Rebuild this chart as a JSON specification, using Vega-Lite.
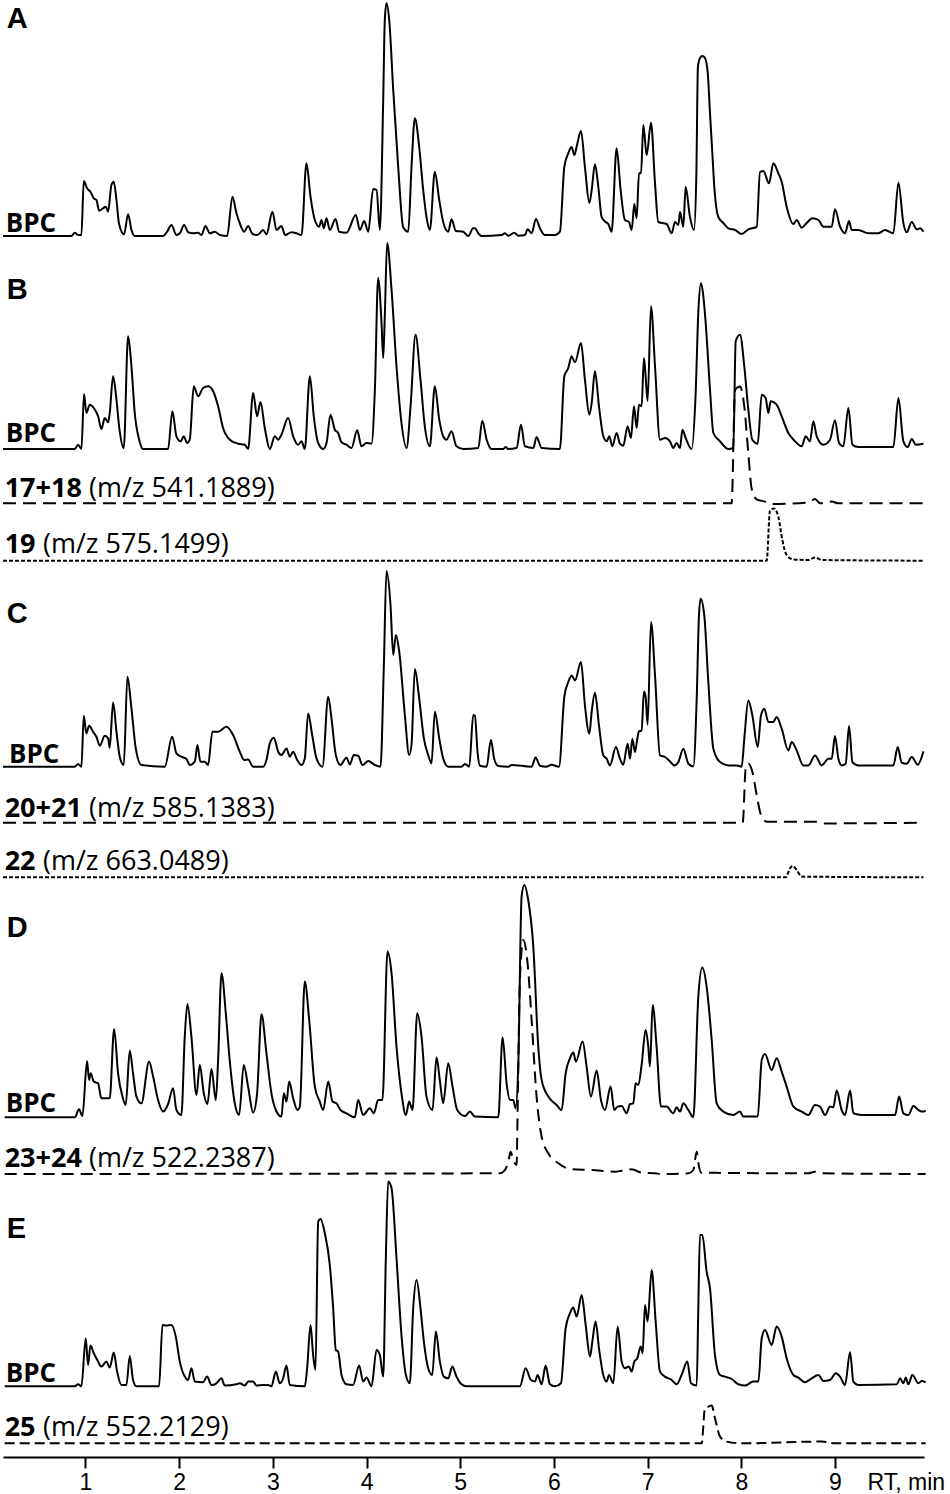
{
"$schema":"https://vega.github.io/schema/vega-lite/v6.json",
"width":921,"height":1457,
"autosize":{"type":"none"},
"padding":{"left":3,"top":0,"right":26,"bottom":37},
"background":"white",
"config":{"view":{"stroke":null}},
"datasets":{
"A":[{"rt":0.12,"i":0},{"rt":0.85,"i":0},{"rt":0.886,"i":3.3},{"rt":0.921,"i":1},{"rt":0.957,"i":1},{"rt":0.982,"i":55},{"rt":1.017,"i":47.7},{"rt":1.053,"i":44.3},{"rt":1.089,"i":37.7},{"rt":1.117,"i":36},{"rt":1.146,"i":25.3},{"rt":1.188,"i":27.7},{"rt":1.217,"i":29.3},{"rt":1.242,"i":24.3},{"rt":1.277,"i":51},{"rt":1.302,"i":54.3},{"rt":1.331,"i":36},{"rt":1.359,"i":12},{"rt":1.412,"i":1.7},{"rt":1.455,"i":21.7},{"rt":1.491,"i":6},{"rt":1.526,"i":0},{"rt":1.829,"i":0},{"rt":1.865,"i":3.3},{"rt":1.918,"i":11},{"rt":1.971,"i":1},{"rt":2.007,"i":2.7},{"rt":2.053,"i":11},{"rt":2.096,"i":3.7},{"rt":2.149,"i":2.7},{"rt":2.202,"i":3.3},{"rt":2.238,"i":1},{"rt":2.281,"i":10},{"rt":2.327,"i":2.7},{"rt":2.38,"i":4.3},{"rt":2.434,"i":1},{"rt":2.512,"i":0},{"rt":2.569,"i":39.3},{"rt":2.612,"i":22.7},{"rt":2.654,"i":11},{"rt":2.694,"i":4.3},{"rt":2.736,"i":10},{"rt":2.783,"i":2},{"rt":2.836,"i":1},{"rt":2.897,"i":6},{"rt":2.932,"i":1.7},{"rt":2.996,"i":24.3},{"rt":3.039,"i":6},{"rt":3.092,"i":10},{"rt":3.131,"i":1},{"rt":3.199,"i":3.7},{"rt":3.252,"i":2.7},{"rt":3.306,"i":1},{"rt":3.359,"i":72.7},{"rt":3.402,"i":39.3},{"rt":3.448,"i":16},{"rt":3.495,"i":9.3},{"rt":3.519,"i":16},{"rt":3.544,"i":7.7},{"rt":3.573,"i":17.7},{"rt":3.608,"i":6},{"rt":3.669,"i":17},{"rt":3.708,"i":4.3},{"rt":3.786,"i":3.3},{"rt":3.886,"i":21},{"rt":3.929,"i":6},{"rt":3.975,"i":15},{"rt":4.018,"i":4.3},{"rt":4.071,"i":47},{"rt":4.107,"i":46},{"rt":4.142,"i":6},{"rt":4.178,"i":136},{"rt":4.195,"i":216},{"rt":4.213,"i":232.7},{"rt":4.242,"i":216},{"rt":4.285,"i":146},{"rt":4.338,"i":69},{"rt":4.391,"i":9},{"rt":4.445,"i":4.3},{"rt":4.48,"i":69},{"rt":4.516,"i":117.7},{"rt":4.562,"i":89},{"rt":4.605,"i":46},{"rt":4.64,"i":19},{"rt":4.676,"i":6},{"rt":4.729,"i":64},{"rt":4.776,"i":36},{"rt":4.818,"i":14},{"rt":4.872,"i":4.3},{"rt":4.907,"i":16.7},{"rt":4.954,"i":5},{"rt":5.032,"i":4.3},{"rt":5.085,"i":0},{"rt":5.139,"i":7.7},{"rt":5.157,"i":7.7},{"rt":5.193,"i":2.7},{"rt":5.228,"i":0},{"rt":5.442,"i":1},{"rt":5.477,"i":2.7},{"rt":5.513,"i":0.3},{"rt":5.577,"i":3.3},{"rt":5.62,"i":0.3},{"rt":5.691,"i":1},{"rt":5.719,"i":6.7},{"rt":5.762,"i":2.7},{"rt":5.808,"i":17},{"rt":5.851,"i":7.7},{"rt":5.904,"i":1},{"rt":6.011,"i":1},{"rt":6.064,"i":4.3},{"rt":6.111,"i":69},{"rt":6.153,"i":82.7},{"rt":6.189,"i":89},{"rt":6.218,"i":81},{"rt":6.242,"i":89},{"rt":6.289,"i":105},{"rt":6.331,"i":69},{"rt":6.378,"i":33},{"rt":6.403,"i":46},{"rt":6.438,"i":71.7},{"rt":6.474,"i":49},{"rt":6.509,"i":19},{"rt":6.552,"i":14},{"rt":6.58,"i":12},{"rt":6.616,"i":4.3},{"rt":6.669,"i":87.7},{"rt":6.712,"i":46},{"rt":6.758,"i":16},{"rt":6.801,"i":14},{"rt":6.83,"i":6},{"rt":6.858,"i":32},{"rt":6.883,"i":17.7},{"rt":6.908,"i":62.7},{"rt":6.93,"i":62.7},{"rt":6.954,"i":111},{"rt":6.99,"i":81},{"rt":7.036,"i":113.3},{"rt":7.079,"i":52.7},{"rt":7.114,"i":14},{"rt":7.203,"i":12},{"rt":7.257,"i":2.7},{"rt":7.292,"i":14},{"rt":7.328,"i":11},{"rt":7.346,"i":24},{"rt":7.381,"i":9.3},{"rt":7.406,"i":49},{"rt":7.452,"i":19},{"rt":7.495,"i":6},{"rt":7.52,"i":60},{"rt":7.537,"i":169},{"rt":7.559,"i":178},{"rt":7.584,"i":180},{"rt":7.612,"i":178},{"rt":7.641,"i":164},{"rt":7.666,"i":122.7},{"rt":7.691,"i":82.7},{"rt":7.712,"i":49},{"rt":7.755,"i":19},{"rt":7.808,"i":13},{"rt":7.862,"i":7.7},{"rt":7.933,"i":6},{"rt":8.004,"i":2},{"rt":8.075,"i":6.7},{"rt":8.164,"i":9},{"rt":8.2,"i":64},{"rt":8.235,"i":65},{"rt":8.296,"i":52.7},{"rt":8.342,"i":72.7},{"rt":8.395,"i":62.7},{"rt":8.431,"i":54.3},{"rt":8.484,"i":29.3},{"rt":8.556,"i":12},{"rt":8.591,"i":16},{"rt":8.645,"i":8.3},{"rt":8.698,"i":13},{"rt":8.759,"i":17.7},{"rt":8.823,"i":16},{"rt":8.876,"i":9.3},{"rt":8.965,"i":9.3},{"rt":9.0,"i":26.7},{"rt":9.054,"i":9.3},{"rt":9.107,"i":2.7},{"rt":9.15,"i":15},{"rt":9.178,"i":6},{"rt":9.25,"i":6},{"rt":9.356,"i":2.7},{"rt":9.463,"i":2.7},{"rt":9.534,"i":6},{"rt":9.623,"i":2.7},{"rt":9.677,"i":53.3},{"rt":9.73,"i":12.7},{"rt":9.766,"i":3.7},{"rt":9.819,"i":14},{"rt":9.872,"i":6.7},{"rt":9.908,"i":7.7},{"rt":9.944,"i":4.3}],
"B":[{"rt":0.12,"i":0},{"rt":0.886,"i":0},{"rt":0.921,"i":4.3},{"rt":0.957,"i":0},{"rt":0.985,"i":55},{"rt":1.01,"i":36},{"rt":1.046,"i":44.3},{"rt":1.089,"i":41},{"rt":1.135,"i":32.7},{"rt":1.17,"i":20},{"rt":1.206,"i":31},{"rt":1.242,"i":26.7},{"rt":1.259,"i":36},{"rt":1.295,"i":72.7},{"rt":1.331,"i":49.3},{"rt":1.359,"i":22.7},{"rt":1.409,"i":1},{"rt":1.455,"i":112.7},{"rt":1.491,"i":82.7},{"rt":1.526,"i":36},{"rt":1.573,"i":9.3},{"rt":1.615,"i":0},{"rt":1.882,"i":0},{"rt":1.928,"i":37.7},{"rt":1.971,"i":12.7},{"rt":2.017,"i":7.7},{"rt":2.049,"i":12.7},{"rt":2.085,"i":6},{"rt":2.113,"i":9.3},{"rt":2.156,"i":62.7},{"rt":2.202,"i":52.7},{"rt":2.256,"i":61},{"rt":2.309,"i":62.7},{"rt":2.363,"i":57.7},{"rt":2.416,"i":42.7},{"rt":2.469,"i":21},{"rt":2.541,"i":9.3},{"rt":2.63,"i":5.3},{"rt":2.7,"i":4.3},{"rt":2.736,"i":0},{"rt":2.79,"i":56},{"rt":2.832,"i":32.7},{"rt":2.868,"i":47},{"rt":2.914,"i":21},{"rt":2.968,"i":0},{"rt":3.021,"i":12.7},{"rt":3.057,"i":9.3},{"rt":3.092,"i":14.3},{"rt":3.163,"i":31},{"rt":3.217,"i":12.7},{"rt":3.27,"i":4.3},{"rt":3.306,"i":7.7},{"rt":3.341,"i":0},{"rt":3.395,"i":72.7},{"rt":3.437,"i":32.7},{"rt":3.484,"i":6},{"rt":3.537,"i":0},{"rt":3.573,"i":6},{"rt":3.615,"i":34.3},{"rt":3.662,"i":19.3},{"rt":3.697,"i":16},{"rt":3.733,"i":6.7},{"rt":3.786,"i":4.3},{"rt":3.84,"i":1},{"rt":3.9,"i":18.7},{"rt":3.946,"i":2.7},{"rt":4.0,"i":6},{"rt":4.053,"i":5.3},{"rt":4.089,"i":59.3},{"rt":4.124,"i":171},{"rt":4.16,"i":126},{"rt":4.178,"i":91},{"rt":4.195,"i":132.7},{"rt":4.22,"i":206},{"rt":4.267,"i":159.3},{"rt":4.32,"i":82.7},{"rt":4.373,"i":26},{"rt":4.427,"i":1},{"rt":4.47,"i":42.7},{"rt":4.523,"i":114.3},{"rt":4.576,"i":69.3},{"rt":4.622,"i":22.7},{"rt":4.676,"i":2.7},{"rt":4.729,"i":62.7},{"rt":4.776,"i":29.3},{"rt":4.818,"i":12.7},{"rt":4.854,"i":9.3},{"rt":4.907,"i":17.7},{"rt":4.96,"i":2.7},{"rt":5.032,"i":0},{"rt":5.193,"i":1},{"rt":5.235,"i":28.3},{"rt":5.282,"i":9.3},{"rt":5.335,"i":0},{"rt":5.46,"i":0},{"rt":5.484,"i":2},{"rt":5.513,"i":0},{"rt":5.602,"i":1},{"rt":5.648,"i":24.3},{"rt":5.691,"i":2.7},{"rt":5.78,"i":1},{"rt":5.815,"i":12},{"rt":5.869,"i":1},{"rt":6.064,"i":0},{"rt":6.111,"i":72.7},{"rt":6.153,"i":81},{"rt":6.189,"i":92.7},{"rt":6.225,"i":86.7},{"rt":6.289,"i":106},{"rt":6.331,"i":69.3},{"rt":6.378,"i":34.3},{"rt":6.403,"i":46},{"rt":6.438,"i":77.7},{"rt":6.481,"i":42.7},{"rt":6.527,"i":12.7},{"rt":6.563,"i":7.7},{"rt":6.591,"i":12.7},{"rt":6.623,"i":2.7},{"rt":6.669,"i":16},{"rt":6.705,"i":5.3},{"rt":6.74,"i":3.3},{"rt":6.787,"i":22.7},{"rt":6.822,"i":11},{"rt":6.855,"i":42.7},{"rt":6.883,"i":21},{"rt":6.908,"i":44.3},{"rt":6.936,"i":42.7},{"rt":6.961,"i":91},{"rt":6.979,"i":72.7},{"rt":7.0,"i":47.7},{"rt":7.036,"i":142.7},{"rt":7.079,"i":82.7},{"rt":7.132,"i":9.3},{"rt":7.185,"i":11},{"rt":7.239,"i":7.7},{"rt":7.274,"i":1},{"rt":7.31,"i":6},{"rt":7.346,"i":1},{"rt":7.371,"i":19.3},{"rt":7.406,"i":11},{"rt":7.47,"i":0},{"rt":7.513,"i":56},{"rt":7.541,"i":136},{"rt":7.57,"i":166},{"rt":7.595,"i":152.7},{"rt":7.62,"i":126},{"rt":7.666,"i":59.3},{"rt":7.702,"i":16},{"rt":7.773,"i":7.7},{"rt":7.862,"i":0},{"rt":7.915,"i":1},{"rt":7.94,"i":107.7},{"rt":7.986,"i":114.3},{"rt":8.032,"i":82.7},{"rt":8.075,"i":39.3},{"rt":8.118,"i":9.3},{"rt":8.175,"i":5.3},{"rt":8.218,"i":54.3},{"rt":8.26,"i":51},{"rt":8.289,"i":36},{"rt":8.313,"i":47.7},{"rt":8.377,"i":44.3},{"rt":8.431,"i":32.7},{"rt":8.502,"i":16},{"rt":8.573,"i":7.7},{"rt":8.645,"i":2.7},{"rt":8.687,"i":12.7},{"rt":8.733,"i":7.7},{"rt":8.769,"i":27.7},{"rt":8.805,"i":12.7},{"rt":8.876,"i":4.3},{"rt":8.947,"i":9.3},{"rt":9.0,"i":28.7},{"rt":9.043,"i":6},{"rt":9.089,"i":2.7},{"rt":9.143,"i":41},{"rt":9.186,"i":4.3},{"rt":9.25,"i":2},{"rt":9.623,"i":2},{"rt":9.677,"i":51},{"rt":9.73,"i":7.7},{"rt":9.776,"i":2},{"rt":9.819,"i":10},{"rt":9.862,"i":4.3},{"rt":9.944,"i":5.3}],
"T17":[{"rt":0.12,"i":0},{"rt":7.897,"i":0},{"rt":7.933,"i":113.3},{"rt":7.986,"i":116.7},{"rt":8.032,"i":96.7},{"rt":8.075,"i":50},{"rt":8.11,"i":15},{"rt":8.164,"i":4},{"rt":8.253,"i":1.7},{"rt":8.324,"i":-0.7},{"rt":8.716,"i":0.7},{"rt":8.787,"i":4.3},{"rt":8.84,"i":0},{"rt":8.965,"i":1.7},{"rt":9.036,"i":0},{"rt":9.944,"i":0}],
"T19":[{"rt":0.12,"i":0},{"rt":8.271,"i":0},{"rt":8.306,"i":50},{"rt":8.349,"i":52.3},{"rt":8.395,"i":44},{"rt":8.438,"i":20.7},{"rt":8.484,"i":5.7},{"rt":8.556,"i":1.3},{"rt":8.716,"i":0.7},{"rt":8.787,"i":3.3},{"rt":8.858,"i":0.7},{"rt":9.944,"i":0}],
"C":[{"rt":0.12,"i":0},{"rt":0.886,"i":0},{"rt":0.921,"i":2.7},{"rt":0.957,"i":0},{"rt":0.982,"i":51},{"rt":1.01,"i":33.3},{"rt":1.039,"i":41},{"rt":1.081,"i":35},{"rt":1.117,"i":30},{"rt":1.153,"i":21},{"rt":1.206,"i":31},{"rt":1.242,"i":28.3},{"rt":1.259,"i":19},{"rt":1.295,"i":64.3},{"rt":1.331,"i":35},{"rt":1.366,"i":10},{"rt":1.409,"i":1.7},{"rt":1.448,"i":90},{"rt":1.491,"i":58.3},{"rt":1.537,"i":18.3},{"rt":1.597,"i":1.7},{"rt":1.847,"i":0},{"rt":1.925,"i":30},{"rt":1.971,"i":13.3},{"rt":2.024,"i":10},{"rt":2.078,"i":7.7},{"rt":2.113,"i":1.7},{"rt":2.167,"i":5},{"rt":2.195,"i":21.7},{"rt":2.227,"i":5},{"rt":2.274,"i":5},{"rt":2.309,"i":1.7},{"rt":2.355,"i":35},{"rt":2.416,"i":35},{"rt":2.505,"i":40},{"rt":2.576,"i":31.7},{"rt":2.647,"i":15},{"rt":2.694,"i":6.7},{"rt":2.736,"i":7.3},{"rt":2.79,"i":0},{"rt":2.897,"i":0},{"rt":2.932,"i":6.7},{"rt":2.968,"i":23.3},{"rt":3.011,"i":29},{"rt":3.057,"i":15},{"rt":3.092,"i":11.7},{"rt":3.146,"i":18.3},{"rt":3.181,"i":10},{"rt":3.217,"i":15},{"rt":3.26,"i":6.7},{"rt":3.306,"i":1.7},{"rt":3.341,"i":8.3},{"rt":3.377,"i":53.3},{"rt":3.42,"i":31.7},{"rt":3.466,"i":8.3},{"rt":3.53,"i":0},{"rt":3.591,"i":70},{"rt":3.626,"i":48.3},{"rt":3.672,"i":11.7},{"rt":3.722,"i":1.7},{"rt":3.786,"i":9},{"rt":3.822,"i":2.3},{"rt":3.864,"i":11.7},{"rt":3.911,"i":11},{"rt":3.957,"i":1.7},{"rt":4.018,"i":5.7},{"rt":4.089,"i":1.7},{"rt":4.149,"i":0},{"rt":4.185,"i":101.7},{"rt":4.213,"i":195.7},{"rt":4.256,"i":161.7},{"rt":4.285,"i":111.7},{"rt":4.313,"i":131.7},{"rt":4.349,"i":115},{"rt":4.409,"i":51.7},{"rt":4.455,"i":11.7},{"rt":4.48,"i":21.7},{"rt":4.516,"i":97.7},{"rt":4.562,"i":68.3},{"rt":4.612,"i":28.3},{"rt":4.658,"i":11.7},{"rt":4.694,"i":3.3},{"rt":4.729,"i":55},{"rt":4.776,"i":28.3},{"rt":4.818,"i":8.3},{"rt":4.872,"i":0},{"rt":5.014,"i":0},{"rt":5.05,"i":2.7},{"rt":5.096,"i":0},{"rt":5.139,"i":51.7},{"rt":5.157,"i":51},{"rt":5.185,"i":14.3},{"rt":5.21,"i":1},{"rt":5.282,"i":0},{"rt":5.328,"i":27},{"rt":5.363,"i":7.7},{"rt":5.406,"i":0.7},{"rt":5.513,"i":0},{"rt":5.548,"i":1.7},{"rt":5.762,"i":0},{"rt":5.805,"i":9.3},{"rt":5.851,"i":1},{"rt":5.922,"i":0},{"rt":5.975,"i":2},{"rt":6.054,"i":0},{"rt":6.111,"i":69.7},{"rt":6.153,"i":84.7},{"rt":6.189,"i":91.3},{"rt":6.225,"i":86.3},{"rt":6.289,"i":104.7},{"rt":6.331,"i":61.3},{"rt":6.378,"i":33},{"rt":6.403,"i":54.7},{"rt":6.438,"i":74},{"rt":6.481,"i":41.3},{"rt":6.527,"i":11.3},{"rt":6.563,"i":8},{"rt":6.598,"i":1.3},{"rt":6.662,"i":19.7},{"rt":6.705,"i":8},{"rt":6.74,"i":2},{"rt":6.787,"i":23},{"rt":6.812,"i":8},{"rt":6.837,"i":28},{"rt":6.865,"i":14.7},{"rt":6.89,"i":28},{"rt":6.908,"i":35.3},{"rt":6.936,"i":36.3},{"rt":6.961,"i":75.3},{"rt":6.979,"i":69.7},{"rt":7.0,"i":42},{"rt":7.036,"i":144.7},{"rt":7.079,"i":91.3},{"rt":7.132,"i":11.3},{"rt":7.185,"i":9.7},{"rt":7.239,"i":5.3},{"rt":7.285,"i":1.3},{"rt":7.328,"i":4.7},{"rt":7.381,"i":18},{"rt":7.435,"i":3},{"rt":7.488,"i":0.3},{"rt":7.524,"i":68},{"rt":7.548,"i":151},{"rt":7.566,"i":168},{"rt":7.605,"i":151.3},{"rt":7.648,"i":84.7},{"rt":7.702,"i":18},{"rt":7.773,"i":4.7},{"rt":7.862,"i":1.3},{"rt":7.951,"i":1.3},{"rt":8.004,"i":0},{"rt":8.032,"i":28},{"rt":8.075,"i":66.3},{"rt":8.118,"i":51.3},{"rt":8.175,"i":19.7},{"rt":8.21,"i":51.3},{"rt":8.246,"i":58},{"rt":8.289,"i":44.7},{"rt":8.342,"i":44.7},{"rt":8.377,"i":49.7},{"rt":8.431,"i":38},{"rt":8.502,"i":16.3},{"rt":8.538,"i":24.7},{"rt":8.591,"i":16.3},{"rt":8.662,"i":1.3},{"rt":8.716,"i":1.3},{"rt":8.787,"i":11.3},{"rt":8.858,"i":1.3},{"rt":8.93,"i":8},{"rt":8.965,"i":8},{"rt":9.0,"i":30.7},{"rt":9.036,"i":8},{"rt":9.071,"i":1.3},{"rt":9.114,"i":3},{"rt":9.15,"i":40.7},{"rt":9.186,"i":4.7},{"rt":9.25,"i":1.3},{"rt":9.623,"i":1.3},{"rt":9.67,"i":19.7},{"rt":9.712,"i":4},{"rt":9.766,"i":3},{"rt":9.819,"i":9.7},{"rt":9.883,"i":2},{"rt":9.944,"i":15.3}],
"T20":[{"rt":0.12,"i":0},{"rt":8.015,"i":0},{"rt":8.047,"i":54.3},{"rt":8.075,"i":59.3},{"rt":8.118,"i":51},{"rt":8.164,"i":27.7},{"rt":8.21,"i":7.7},{"rt":8.271,"i":1},{"rt":8.787,"i":1},{"rt":8.894,"i":-0.7},{"rt":9.944,"i":0}],
"T22":[{"rt":0.12,"i":0},{"rt":8.474,"i":0},{"rt":8.52,"i":9},{"rt":8.545,"i":11.3},{"rt":8.591,"i":7.3},{"rt":8.645,"i":0.7},{"rt":9.944,"i":0}],
"D":[{"rt":0.138,"i":0},{"rt":0.886,"i":0},{"rt":0.932,"i":8},{"rt":0.968,"i":1.3},{"rt":1.017,"i":56.3},{"rt":1.039,"i":37.3},{"rt":1.056,"i":44},{"rt":1.089,"i":35.7},{"rt":1.135,"i":34},{"rt":1.17,"i":19},{"rt":1.259,"i":19},{"rt":1.306,"i":88.3},{"rt":1.348,"i":44},{"rt":1.395,"i":20.7},{"rt":1.43,"i":12.3},{"rt":1.473,"i":66.7},{"rt":1.508,"i":44},{"rt":1.544,"i":20.7},{"rt":1.597,"i":14},{"rt":1.679,"i":55.7},{"rt":1.722,"i":40.7},{"rt":1.775,"i":17.3},{"rt":1.829,"i":5.7},{"rt":1.882,"i":13.3},{"rt":1.935,"i":29},{"rt":1.971,"i":7.3},{"rt":2.024,"i":2.3},{"rt":2.06,"i":80.7},{"rt":2.088,"i":113.3},{"rt":2.131,"i":80.7},{"rt":2.185,"i":22.3},{"rt":2.22,"i":52.3},{"rt":2.263,"i":24},{"rt":2.302,"i":13.3},{"rt":2.345,"i":48.3},{"rt":2.391,"i":17.3},{"rt":2.416,"i":57.3},{"rt":2.452,"i":144},{"rt":2.498,"i":104},{"rt":2.541,"i":55.7},{"rt":2.594,"i":14},{"rt":2.64,"i":2.3},{"rt":2.69,"i":52.3},{"rt":2.736,"i":30.7},{"rt":2.79,"i":4.7},{"rt":2.832,"i":24},{"rt":2.879,"i":103},{"rt":2.932,"i":64},{"rt":2.985,"i":24},{"rt":3.032,"i":7.3},{"rt":3.092,"i":0.7},{"rt":3.117,"i":24},{"rt":3.146,"i":15.7},{"rt":3.174,"i":35.7},{"rt":3.217,"i":19},{"rt":3.263,"i":7.3},{"rt":3.288,"i":10.7},{"rt":3.341,"i":135.7},{"rt":3.388,"i":97.3},{"rt":3.448,"i":30.7},{"rt":3.501,"i":15.7},{"rt":3.537,"i":7.3},{"rt":3.591,"i":35.7},{"rt":3.637,"i":15.7},{"rt":3.679,"i":14},{"rt":3.722,"i":7.3},{"rt":3.786,"i":4},{"rt":3.875,"i":0},{"rt":3.911,"i":17.3},{"rt":3.964,"i":2.3},{"rt":4.035,"i":9},{"rt":4.078,"i":4},{"rt":4.124,"i":17.3},{"rt":4.17,"i":17.3},{"rt":4.224,"i":165.7},{"rt":4.267,"i":144},{"rt":4.32,"i":70.7},{"rt":4.373,"i":24},{"rt":4.42,"i":2.3},{"rt":4.455,"i":15.7},{"rt":4.491,"i":7.3},{"rt":4.541,"i":104},{"rt":4.587,"i":80.7},{"rt":4.64,"i":20.7},{"rt":4.704,"i":7.3},{"rt":4.747,"i":60},{"rt":4.782,"i":37.3},{"rt":4.818,"i":14},{"rt":4.872,"i":54},{"rt":4.918,"i":30.7},{"rt":4.968,"i":7.3},{"rt":5.05,"i":1.3},{"rt":5.103,"i":5.7},{"rt":5.157,"i":0.7},{"rt":5.406,"i":0},{"rt":5.452,"i":80},{"rt":5.495,"i":34},{"rt":5.531,"i":17.3},{"rt":5.566,"i":17.3},{"rt":5.591,"i":9},{"rt":5.62,"i":54},{"rt":5.655,"i":220.7},{"rt":5.684,"i":232.3},{"rt":5.726,"i":217.3},{"rt":5.78,"i":170.7},{"rt":5.833,"i":70.7},{"rt":5.869,"i":37.3},{"rt":5.94,"i":20.7},{"rt":6.029,"i":12.3},{"rt":6.082,"i":7.3},{"rt":6.125,"i":44},{"rt":6.171,"i":59},{"rt":6.207,"i":64.7},{"rt":6.235,"i":55.7},{"rt":6.306,"i":75.7},{"rt":6.349,"i":50.7},{"rt":6.395,"i":20.7},{"rt":6.456,"i":46.7},{"rt":6.502,"i":17.3},{"rt":6.545,"i":7.3},{"rt":6.605,"i":30.7},{"rt":6.644,"i":7.3},{"rt":6.68,"i":10.7},{"rt":6.723,"i":11.3},{"rt":6.776,"i":4},{"rt":6.812,"i":13.3},{"rt":6.847,"i":14},{"rt":6.872,"i":34},{"rt":6.901,"i":32.3},{"rt":6.936,"i":52.3},{"rt":6.979,"i":87.3},{"rt":7.007,"i":70.7},{"rt":7.025,"i":50.7},{"rt":7.054,"i":112.3},{"rt":7.096,"i":70.7},{"rt":7.143,"i":10.7},{"rt":7.203,"i":10.7},{"rt":7.274,"i":4},{"rt":7.31,"i":10},{"rt":7.346,"i":5.7},{"rt":7.381,"i":14},{"rt":7.435,"i":7.3},{"rt":7.488,"i":0},{"rt":7.541,"i":120.7},{"rt":7.584,"i":149.7},{"rt":7.63,"i":130.7},{"rt":7.684,"i":77.3},{"rt":7.737,"i":14},{"rt":7.808,"i":5.7},{"rt":7.915,"i":2.3},{"rt":7.986,"i":5.7},{"rt":8.022,"i":0.7},{"rt":8.175,"i":0.7},{"rt":8.218,"i":57.3},{"rt":8.253,"i":63.3},{"rt":8.324,"i":47.3},{"rt":8.377,"i":59},{"rt":8.431,"i":45.7},{"rt":8.484,"i":30.7},{"rt":8.556,"i":10.7},{"rt":8.645,"i":5.7},{"rt":8.716,"i":2.3},{"rt":8.787,"i":12.3},{"rt":8.84,"i":10.7},{"rt":8.894,"i":2.3},{"rt":8.947,"i":10.7},{"rt":8.983,"i":10},{"rt":9.018,"i":26.7},{"rt":9.071,"i":7.3},{"rt":9.107,"i":2.3},{"rt":9.161,"i":26.7},{"rt":9.196,"i":4},{"rt":9.285,"i":2.3},{"rt":9.641,"i":2.3},{"rt":9.684,"i":20.7},{"rt":9.73,"i":4},{"rt":9.783,"i":2.3},{"rt":9.837,"i":11.3},{"rt":9.89,"i":7.3},{"rt":9.926,"i":5.7},{"rt":9.968,"i":6.3}],
"T23":[{"rt":0.138,"i":0},{"rt":5.424,"i":0.7},{"rt":5.477,"i":4},{"rt":5.513,"i":12.3},{"rt":5.538,"i":22.3},{"rt":5.566,"i":14},{"rt":5.602,"i":9},{"rt":5.612,"i":60},{"rt":5.637,"i":194},{"rt":5.673,"i":234},{"rt":5.719,"i":210.7},{"rt":5.762,"i":154},{"rt":5.815,"i":77.3},{"rt":5.869,"i":37.3},{"rt":5.94,"i":20.7},{"rt":6.047,"i":10.7},{"rt":6.189,"i":4.7},{"rt":6.403,"i":4},{"rt":6.652,"i":2.3},{"rt":6.723,"i":3.3},{"rt":6.83,"i":4.7},{"rt":6.936,"i":1.3},{"rt":7.078,"i":0.7},{"rt":7.15,"i":0},{"rt":7.435,"i":0.7},{"rt":7.488,"i":4},{"rt":7.524,"i":22.3},{"rt":7.541,"i":11.3},{"rt":7.57,"i":1.3},{"rt":8.716,"i":0.7},{"rt":8.787,"i":2.3},{"rt":8.858,"i":0.7},{"rt":9.968,"i":0}],
"E":[{"rt":0.138,"i":0},{"rt":0.886,"i":0},{"rt":0.921,"i":2},{"rt":0.957,"i":0},{"rt":1.003,"i":48},{"rt":1.028,"i":21.3},{"rt":1.053,"i":40.7},{"rt":1.089,"i":33},{"rt":1.135,"i":24.7},{"rt":1.17,"i":19.7},{"rt":1.224,"i":24.7},{"rt":1.259,"i":18.7},{"rt":1.302,"i":33.7},{"rt":1.338,"i":14.7},{"rt":1.384,"i":1.3},{"rt":1.437,"i":1.3},{"rt":1.473,"i":30.3},{"rt":1.508,"i":6.3},{"rt":1.544,"i":0},{"rt":1.786,"i":0},{"rt":1.822,"i":61.3},{"rt":1.864,"i":60.7},{"rt":1.918,"i":61.3},{"rt":1.964,"i":49.7},{"rt":2.007,"i":24.7},{"rt":2.06,"i":9.7},{"rt":2.096,"i":6.3},{"rt":2.131,"i":18},{"rt":2.167,"i":4.7},{"rt":2.256,"i":4},{"rt":2.298,"i":9.7},{"rt":2.345,"i":1.3},{"rt":2.398,"i":3},{"rt":2.452,"i":8},{"rt":2.487,"i":0.7},{"rt":2.612,"i":2},{"rt":2.647,"i":3},{"rt":2.701,"i":0.7},{"rt":2.736,"i":4.7},{"rt":2.79,"i":4.7},{"rt":2.825,"i":0.7},{"rt":2.897,"i":1.3},{"rt":2.95,"i":1.3},{"rt":2.985,"i":0},{"rt":3.032,"i":14.7},{"rt":3.074,"i":3},{"rt":3.11,"i":8},{"rt":3.146,"i":20.7},{"rt":3.181,"i":1.3},{"rt":3.341,"i":0},{"rt":3.366,"i":18},{"rt":3.402,"i":61.3},{"rt":3.43,"i":31.3},{"rt":3.455,"i":16.3},{"rt":3.484,"i":164.7},{"rt":3.509,"i":167.3},{"rt":3.555,"i":153},{"rt":3.608,"i":121.3},{"rt":3.644,"i":78},{"rt":3.672,"i":36.3},{"rt":3.697,"i":34.7},{"rt":3.733,"i":11.3},{"rt":3.786,"i":2},{"rt":3.857,"i":1.3},{"rt":3.921,"i":20.7},{"rt":3.964,"i":4.7},{"rt":4.0,"i":8.7},{"rt":4.053,"i":0},{"rt":4.107,"i":36.3},{"rt":4.142,"i":31.3},{"rt":4.178,"i":9.7},{"rt":4.206,"i":128},{"rt":4.231,"i":204.7},{"rt":4.267,"i":198},{"rt":4.32,"i":128},{"rt":4.373,"i":51.3},{"rt":4.42,"i":11.3},{"rt":4.462,"i":3},{"rt":4.498,"i":78},{"rt":4.534,"i":106.3},{"rt":4.576,"i":78},{"rt":4.612,"i":44.7},{"rt":4.658,"i":18},{"rt":4.701,"i":11.3},{"rt":4.74,"i":54.7},{"rt":4.783,"i":24.7},{"rt":4.825,"i":9.7},{"rt":4.872,"i":8},{"rt":4.915,"i":19.7},{"rt":4.96,"i":9.7},{"rt":5.014,"i":2},{"rt":5.067,"i":0},{"rt":5.637,"i":0},{"rt":5.698,"i":18},{"rt":5.755,"i":6.3},{"rt":5.798,"i":4.7},{"rt":5.826,"i":11.3},{"rt":5.869,"i":2},{"rt":5.911,"i":20.7},{"rt":5.958,"i":2},{"rt":6.011,"i":0},{"rt":6.075,"i":3},{"rt":6.125,"i":58},{"rt":6.171,"i":73},{"rt":6.207,"i":78.7},{"rt":6.242,"i":69.7},{"rt":6.296,"i":91.3},{"rt":6.339,"i":61.3},{"rt":6.385,"i":29.7},{"rt":6.41,"i":44.7},{"rt":6.445,"i":64.7},{"rt":6.481,"i":38},{"rt":6.527,"i":11.3},{"rt":6.563,"i":4.7},{"rt":6.588,"i":11.3},{"rt":6.634,"i":3},{"rt":6.68,"i":59.7},{"rt":6.723,"i":24.7},{"rt":6.758,"i":18},{"rt":6.801,"i":19.7},{"rt":6.83,"i":14.7},{"rt":6.858,"i":24.7},{"rt":6.89,"i":28},{"rt":6.926,"i":39.7},{"rt":6.947,"i":33},{"rt":6.972,"i":81.3},{"rt":7.0,"i":64.7},{"rt":7.043,"i":116.3},{"rt":7.086,"i":64.7},{"rt":7.132,"i":14.7},{"rt":7.185,"i":9.7},{"rt":7.257,"i":6.3},{"rt":7.31,"i":2},{"rt":7.363,"i":11.3},{"rt":7.424,"i":24.7},{"rt":7.463,"i":3},{"rt":7.524,"i":0.7},{"rt":7.541,"i":78},{"rt":7.559,"i":151.3},{"rt":7.584,"i":151.3},{"rt":7.63,"i":114.7},{"rt":7.666,"i":98},{"rt":7.719,"i":31.3},{"rt":7.773,"i":11.3},{"rt":7.826,"i":9.7},{"rt":7.898,"i":7.3},{"rt":7.968,"i":2},{"rt":8.04,"i":0.7},{"rt":8.128,"i":4.7},{"rt":8.182,"i":4.7},{"rt":8.218,"i":48},{"rt":8.253,"i":56.3},{"rt":8.324,"i":41.3},{"rt":8.377,"i":59.7},{"rt":8.431,"i":49.7},{"rt":8.484,"i":28},{"rt":8.556,"i":11.3},{"rt":8.609,"i":8.7},{"rt":8.68,"i":4},{"rt":8.751,"i":8},{"rt":8.823,"i":11.3},{"rt":8.876,"i":5.3},{"rt":8.947,"i":6.3},{"rt":9.008,"i":13},{"rt":9.054,"i":9.7},{"rt":9.107,"i":1.3},{"rt":9.161,"i":34},{"rt":9.196,"i":4.7},{"rt":9.25,"i":1.3},{"rt":9.659,"i":2},{"rt":9.694,"i":8},{"rt":9.73,"i":3},{"rt":9.755,"i":8.7},{"rt":9.783,"i":2},{"rt":9.826,"i":11.3},{"rt":9.89,"i":3},{"rt":9.926,"i":5.3},{"rt":9.968,"i":4}],
"T25":[{"rt":0.138,"i":0},{"rt":7.577,"i":0},{"rt":7.612,"i":35},{"rt":7.648,"i":36.7},{"rt":7.684,"i":37.7},{"rt":7.719,"i":25},{"rt":7.773,"i":6.7},{"rt":7.844,"i":1.7},{"rt":8.004,"i":0},{"rt":8.858,"i":1.7},{"rt":9.0,"i":0},{"rt":9.968,"i":0}]
},
"layer":[
{"data":{"name":"A"},"mark":{"type":"line","color":"black","strokeWidth":2,"strokeJoin":"round","interpolate":"monotone"},
 "encoding":{"x":{"field":"rt","type":"quantitative","title":"RT, min","scale":{"domain":[0.12,9.95],"nice":false,"zero":false},
   "axis":{"values":[1,2,3,4,5,6,7,8,9],"format":"d","grid":false,"domainColor":"black","domainWidth":2,"tickColor":"black","tickWidth":2,"tickSize":11,"labelFont":"Liberation Sans","labelFontSize":23,"labelColor":"black","labelPadding":21,"labelBaseline":"alphabetic","labelFlush":false,"labelOverlap":false,"titleFont":"Liberation Sans","titleFontSize":23,"titleFontWeight":"normal","titleColor":"black","titleX":864,"titleY":32.5,"titleAlign":"left","titleBaseline":"alphabetic","titleAnchor":"start"}},
  "y":{"field":"i","type":"quantitative","scale":{"domain":[-1221,236],"nice":false,"zero":false},"axis":null}}},
{"data":{"name":"B"},"mark":{"type":"line","color":"black","strokeWidth":2,"strokeJoin":"round","interpolate":"monotone"},
 "encoding":{"x":{"field":"rt","type":"quantitative","title":"RT, min","scale":{"domain":[0.12,9.95],"nice":false,"zero":false}},
  "y":{"field":"i","type":"quantitative","scale":{"domain":[-1008,449],"nice":false,"zero":false},"axis":null}}},
{"data":{"name":"T17"},"mark":{"type":"line","color":"black","strokeWidth":2,"strokeJoin":"round","strokeDash":[13,7],"interpolate":"monotone"},
 "encoding":{"x":{"field":"rt","type":"quantitative","title":"RT, min","scale":{"domain":[0.12,9.95],"nice":false,"zero":false}},
  "y":{"field":"i","type":"quantitative","scale":{"domain":[-953.7,503.3],"nice":false,"zero":false},"axis":null}}},
{"data":{"name":"T19"},"mark":{"type":"line","color":"black","strokeWidth":2,"strokeJoin":"round","strokeDash":[4,2],"interpolate":"monotone"},
 "encoding":{"x":{"field":"rt","type":"quantitative","title":"RT, min","scale":{"domain":[0.12,9.95],"nice":false,"zero":false}},
  "y":{"field":"i","type":"quantitative","scale":{"domain":[-896.3,560.7],"nice":false,"zero":false},"axis":null}}},
{"data":{"name":"C"},"mark":{"type":"line","color":"black","strokeWidth":2,"strokeJoin":"round","interpolate":"monotone"},
 "encoding":{"x":{"field":"rt","type":"quantitative","title":"RT, min","scale":{"domain":[0.12,9.95],"nice":false,"zero":false}},
  "y":{"field":"i","type":"quantitative","scale":{"domain":[-690.3,766.7],"nice":false,"zero":false},"axis":null}}},
{"data":{"name":"T20"},"mark":{"type":"line","color":"black","strokeWidth":2,"strokeJoin":"round","strokeDash":[13,7],"interpolate":"monotone"},
 "encoding":{"x":{"field":"rt","type":"quantitative","title":"RT, min","scale":{"domain":[0.12,9.95],"nice":false,"zero":false}},
  "y":{"field":"i","type":"quantitative","scale":{"domain":[-634.3,822.7],"nice":false,"zero":false},"axis":null}}},
{"data":{"name":"T22"},"mark":{"type":"line","color":"black","strokeWidth":2,"strokeJoin":"round","strokeDash":[4,2],"interpolate":"monotone"},
 "encoding":{"x":{"field":"rt","type":"quantitative","title":"RT, min","scale":{"domain":[0.12,9.95],"nice":false,"zero":false}},
  "y":{"field":"i","type":"quantitative","scale":{"domain":[-579.7,877.3],"nice":false,"zero":false},"axis":null}}},
{"data":{"name":"D"},"mark":{"type":"line","color":"black","strokeWidth":2,"strokeJoin":"round","interpolate":"monotone"},
 "encoding":{"x":{"field":"rt","type":"quantitative","title":"RT, min","scale":{"domain":[0.12,9.95],"nice":false,"zero":false}},
  "y":{"field":"i","type":"quantitative","scale":{"domain":[-339.7,1117.3],"nice":false,"zero":false},"axis":null}}},
{"data":{"name":"T23"},"mark":{"type":"line","color":"black","strokeWidth":2,"strokeJoin":"round","strokeDash":[12,7],"interpolate":"monotone"},
 "encoding":{"x":{"field":"rt","type":"quantitative","title":"RT, min","scale":{"domain":[0.12,9.95],"nice":false,"zero":false}},
  "y":{"field":"i","type":"quantitative","scale":{"domain":[-283,1174],"nice":false,"zero":false},"axis":null}}},
{"data":{"name":"E"},"mark":{"type":"line","color":"black","strokeWidth":2,"strokeJoin":"round","interpolate":"monotone"},
 "encoding":{"x":{"field":"rt","type":"quantitative","title":"RT, min","scale":{"domain":[0.12,9.95],"nice":false,"zero":false}},
  "y":{"field":"i","type":"quantitative","scale":{"domain":[-70.7,1386.3],"nice":false,"zero":false},"axis":null}}},
{"data":{"name":"T25"},"mark":{"type":"line","color":"black","strokeWidth":2,"strokeJoin":"round","strokeDash":[10,5],"interpolate":"monotone"},
 "encoding":{"x":{"field":"rt","type":"quantitative","title":"RT, min","scale":{"domain":[0.12,9.95],"nice":false,"zero":false}},
  "y":{"field":"i","type":"quantitative","scale":{"domain":[-13.7,1443.3],"nice":false,"zero":false},"axis":null}}},
{"data":{"values":[{"label":"A"}]},"mark":{"type":"text","font":"Liberation Sans","fontWeight":"bold","fontSize":29,"align":"left","baseline":"alphabetic","color":"black"},
 "encoding":{"x":{"datum":0.16,"type":"quantitative","title":"RT, min","scale":{"domain":[0.12,9.95],"nice":false,"zero":false}},"y":{"datum":207.7,"type":"quantitative","scale":{"domain":[-1221,236],"nice":false,"zero":false},"axis":null},"text":{"field":"label"}}},
{"data":{"values":[{"label":"BPC"}]},"mark":{"type":"text","font":"Open Sans","fontWeight":"bold","fontSize":26,"align":"left","baseline":"alphabetic","color":"black"},
 "encoding":{"x":{"datum":0.149,"type":"quantitative","title":"RT, min","scale":{"domain":[0.12,9.95],"nice":false,"zero":false}},"y":{"datum":4.3,"type":"quantitative","scale":{"domain":[-1221,236],"nice":false,"zero":false},"axis":null},"text":{"field":"label"}}},
{"data":{"values":[{"label":"B"}]},"mark":{"type":"text","font":"Liberation Sans","fontWeight":"bold","fontSize":29,"align":"left","baseline":"alphabetic","color":"black"},
 "encoding":{"x":{"datum":0.16,"type":"quantitative","title":"RT, min","scale":{"domain":[0.12,9.95],"nice":false,"zero":false}},"y":{"datum":150,"type":"quantitative","scale":{"domain":[-1008,449],"nice":false,"zero":false},"axis":null},"text":{"field":"label"}}},
{"data":{"values":[{"label":"BPC"}]},"mark":{"type":"text","font":"Open Sans","fontWeight":"bold","fontSize":26,"align":"left","baseline":"alphabetic","color":"black"},
 "encoding":{"x":{"datum":0.149,"type":"quantitative","title":"RT, min","scale":{"domain":[0.12,9.95],"nice":false,"zero":false}},"y":{"datum":7.3,"type":"quantitative","scale":{"domain":[-1008,449],"nice":false,"zero":false},"axis":null},"text":{"field":"label"}}},
{"data":{"values":[{"label":"17+18"}]},"mark":{"type":"text","font":"Open Sans","fontWeight":"bold","fontSize":27,"align":"left","baseline":"alphabetic","color":"black"},
 "encoding":{"x":{"datum":0.138,"type":"quantitative","title":"RT, min","scale":{"domain":[0.12,9.95],"nice":false,"zero":false}},"y":{"datum":6.7,"type":"quantitative","scale":{"domain":[-953.7,503.3],"nice":false,"zero":false},"axis":null},"text":{"field":"label"}}},
{"data":{"values":[{"label":"(m/z 541.1889)"}]},"mark":{"type":"text","font":"Open Sans","fontSize":27,"align":"left","baseline":"alphabetic","color":"black"},
 "encoding":{"x":{"datum":1.038,"type":"quantitative","title":"RT, min","scale":{"domain":[0.12,9.95],"nice":false,"zero":false}},"y":{"datum":6.7,"type":"quantitative","scale":{"domain":[-953.7,503.3],"nice":false,"zero":false},"axis":null},"text":{"field":"label"}}},
{"data":{"values":[{"label":"19"}]},"mark":{"type":"text","font":"Open Sans","fontWeight":"bold","fontSize":27,"align":"left","baseline":"alphabetic","color":"black"},
 "encoding":{"x":{"datum":0.138,"type":"quantitative","title":"RT, min","scale":{"domain":[0.12,9.95],"nice":false,"zero":false}},"y":{"datum":7.4,"type":"quantitative","scale":{"domain":[-896.3,560.7],"nice":false,"zero":false},"axis":null},"text":{"field":"label"}}},
{"data":{"values":[{"label":"(m/z 575.1499)"}]},"mark":{"type":"text","font":"Open Sans","fontSize":27,"align":"left","baseline":"alphabetic","color":"black"},
 "encoding":{"x":{"datum":0.547,"type":"quantitative","title":"RT, min","scale":{"domain":[0.12,9.95],"nice":false,"zero":false}},"y":{"datum":7.4,"type":"quantitative","scale":{"domain":[-896.3,560.7],"nice":false,"zero":false},"axis":null},"text":{"field":"label"}}},
{"data":{"values":[{"label":"C"}]},"mark":{"type":"text","font":"Liberation Sans","fontWeight":"bold","fontSize":29,"align":"left","baseline":"alphabetic","color":"black"},
 "encoding":{"x":{"datum":0.16,"type":"quantitative","title":"RT, min","scale":{"domain":[0.12,9.95],"nice":false,"zero":false}},"y":{"datum":143.4,"type":"quantitative","scale":{"domain":[-690.3,766.7],"nice":false,"zero":false},"axis":null},"text":{"field":"label"}}},
{"data":{"values":[{"label":"BPC"}]},"mark":{"type":"text","font":"Open Sans","fontWeight":"bold","fontSize":26,"align":"left","baseline":"alphabetic","color":"black"},
 "encoding":{"x":{"datum":0.184,"type":"quantitative","title":"RT, min","scale":{"domain":[0.12,9.95],"nice":false,"zero":false}},"y":{"datum":3.4,"type":"quantitative","scale":{"domain":[-690.3,766.7],"nice":false,"zero":false},"axis":null},"text":{"field":"label"}}},
{"data":{"values":[{"label":"20+21"}]},"mark":{"type":"text","font":"Open Sans","fontWeight":"bold","fontSize":27,"align":"left","baseline":"alphabetic","color":"black"},
 "encoding":{"x":{"datum":0.138,"type":"quantitative","title":"RT, min","scale":{"domain":[0.12,9.95],"nice":false,"zero":false}},"y":{"datum":6,"type":"quantitative","scale":{"domain":[-634.3,822.7],"nice":false,"zero":false},"axis":null},"text":{"field":"label"}}},
{"data":{"values":[{"label":"(m/z 585.1383)"}]},"mark":{"type":"text","font":"Open Sans","fontSize":27,"align":"left","baseline":"alphabetic","color":"black"},
 "encoding":{"x":{"datum":1.038,"type":"quantitative","title":"RT, min","scale":{"domain":[0.12,9.95],"nice":false,"zero":false}},"y":{"datum":6,"type":"quantitative","scale":{"domain":[-634.3,822.7],"nice":false,"zero":false},"axis":null},"text":{"field":"label"}}},
{"data":{"values":[{"label":"22"}]},"mark":{"type":"text","font":"Open Sans","fontWeight":"bold","fontSize":27,"align":"left","baseline":"alphabetic","color":"black"},
 "encoding":{"x":{"datum":0.138,"type":"quantitative","title":"RT, min","scale":{"domain":[0.12,9.95],"nice":false,"zero":false}},"y":{"datum":7.3,"type":"quantitative","scale":{"domain":[-579.7,877.3],"nice":false,"zero":false},"axis":null},"text":{"field":"label"}}},
{"data":{"values":[{"label":"(m/z 663.0489)"}]},"mark":{"type":"text","font":"Open Sans","fontSize":27,"align":"left","baseline":"alphabetic","color":"black"},
 "encoding":{"x":{"datum":0.547,"type":"quantitative","title":"RT, min","scale":{"domain":[0.12,9.95],"nice":false,"zero":false}},"y":{"datum":7.3,"type":"quantitative","scale":{"domain":[-579.7,877.3],"nice":false,"zero":false},"axis":null},"text":{"field":"label"}}},
{"data":{"values":[{"label":"D"}]},"mark":{"type":"text","font":"Liberation Sans","fontWeight":"bold","fontSize":29,"align":"left","baseline":"alphabetic","color":"black"},
 "encoding":{"x":{"datum":0.16,"type":"quantitative","title":"RT, min","scale":{"domain":[0.12,9.95],"nice":false,"zero":false}},"y":{"datum":180.6,"type":"quantitative","scale":{"domain":[-339.7,1117.3],"nice":false,"zero":false},"axis":null},"text":{"field":"label"}}},
{"data":{"values":[{"label":"BPC"}]},"mark":{"type":"text","font":"Open Sans","fontWeight":"bold","fontSize":26,"align":"left","baseline":"alphabetic","color":"black"},
 "encoding":{"x":{"datum":0.149,"type":"quantitative","title":"RT, min","scale":{"domain":[0.12,9.95],"nice":false,"zero":false}},"y":{"datum":5.6,"type":"quantitative","scale":{"domain":[-339.7,1117.3],"nice":false,"zero":false},"axis":null},"text":{"field":"label"}}},
{"data":{"values":[{"label":"23+24"}]},"mark":{"type":"text","font":"Open Sans","fontWeight":"bold","fontSize":27,"align":"left","baseline":"alphabetic","color":"black"},
 "encoding":{"x":{"datum":0.138,"type":"quantitative","title":"RT, min","scale":{"domain":[0.12,9.95],"nice":false,"zero":false}},"y":{"datum":6.7,"type":"quantitative","scale":{"domain":[-283,1174],"nice":false,"zero":false},"axis":null},"text":{"field":"label"}}},
{"data":{"values":[{"label":"(m/z 522.2387)"}]},"mark":{"type":"text","font":"Open Sans","fontSize":27,"align":"left","baseline":"alphabetic","color":"black"},
 "encoding":{"x":{"datum":1.038,"type":"quantitative","title":"RT, min","scale":{"domain":[0.12,9.95],"nice":false,"zero":false}},"y":{"datum":6.7,"type":"quantitative","scale":{"domain":[-283,1174],"nice":false,"zero":false},"axis":null},"text":{"field":"label"}}},
{"data":{"values":[{"label":"E"}]},"mark":{"type":"text","font":"Liberation Sans","fontWeight":"bold","fontSize":29,"align":"left","baseline":"alphabetic","color":"black"},
 "encoding":{"x":{"datum":0.16,"type":"quantitative","title":"RT, min","scale":{"domain":[0.12,9.95],"nice":false,"zero":false}},"y":{"datum":148,"type":"quantitative","scale":{"domain":[-70.7,1386.3],"nice":false,"zero":false},"axis":null},"text":{"field":"label"}}},
{"data":{"values":[{"label":"BPC"}]},"mark":{"type":"text","font":"Open Sans","fontWeight":"bold","fontSize":26,"align":"left","baseline":"alphabetic","color":"black"},
 "encoding":{"x":{"datum":0.149,"type":"quantitative","title":"RT, min","scale":{"domain":[0.12,9.95],"nice":false,"zero":false}},"y":{"datum":4.6,"type":"quantitative","scale":{"domain":[-70.7,1386.3],"nice":false,"zero":false},"axis":null},"text":{"field":"label"}}},
{"data":{"values":[{"label":"25"}]},"mark":{"type":"text","font":"Open Sans","fontWeight":"bold","fontSize":27,"align":"left","baseline":"alphabetic","color":"black"},
 "encoding":{"x":{"datum":0.138,"type":"quantitative","title":"RT, min","scale":{"domain":[0.12,9.95],"nice":false,"zero":false}},"y":{"datum":7.6,"type":"quantitative","scale":{"domain":[-13.7,1443.3],"nice":false,"zero":false},"axis":null},"text":{"field":"label"}}},
{"data":{"values":[{"label":"(m/z 552.2129)"}]},"mark":{"type":"text","font":"Open Sans","fontSize":27,"align":"left","baseline":"alphabetic","color":"black"},
 "encoding":{"x":{"datum":0.547,"type":"quantitative","title":"RT, min","scale":{"domain":[0.12,9.95],"nice":false,"zero":false}},"y":{"datum":7.6,"type":"quantitative","scale":{"domain":[-13.7,1443.3],"nice":false,"zero":false},"axis":null},"text":{"field":"label"}}}
],
"resolve":{"scale":{"y":"independent"}}
}
